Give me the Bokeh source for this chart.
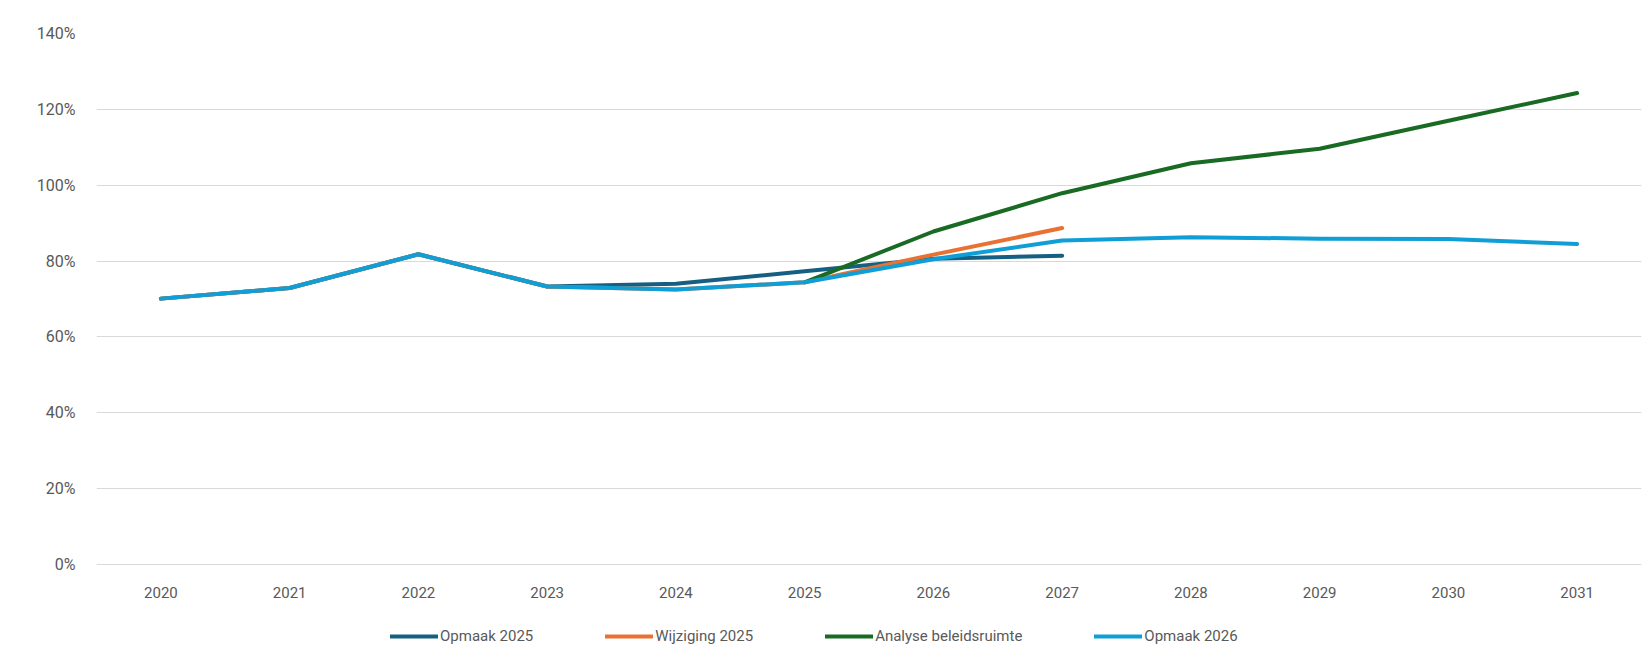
from bokeh.plotting import figure
from bokeh.models import FactorRange, Range1d, Legend, LegendItem, PrintfTickFormatter, FixedTicker, ColumnDataSource
from bokeh.core.properties import value
from bokeh.embed import file_html
from bokeh.resources import INLINE

years = ["2020", "2021", "2022", "2023", "2024", "2025", "2026", "2027", "2028", "2029", "2030", "2031"]

opmaak_2025_years = years[:8]
opmaak_2025 = [70.1, 72.9, 81.8, 73.3, 74.0, 77.3, 80.6, 81.4]

wijziging_2025_years = years[:8]
wijziging_2025 = [70.1, 72.9, 81.8, 73.3, 72.5, 74.4, 81.7, 88.7]

analyse_years = years[5:]
analyse_beleidsruimte = [74.4, 87.8, 97.9, 105.8, 109.6, 117.0, 124.3]

opmaak_2026_years = years
opmaak_2026 = [70.1, 72.9, 81.8, 73.3, 72.5, 74.4, 80.5, 85.4, 86.3, 85.9, 85.8, 84.5]

y_ticks = [0, 20, 40, 60, 80, 100, 120, 140]

FONT = "Roboto"
TXT = "#595959"

# frame: 0..140 % spans 531 px; the frame is extended below 0 so that the
# category labels and the legend can sit inside it
PX_PER_UNIT = 531 / 140.0
BELOW_PX = 104
y_low = -BELOW_PX / PX_PER_UNIT

p = figure(
    x_range=FactorRange(factors=years, range_padding=0),
    y_range=Range1d(y_low, 140),
    frame_width=1545, frame_height=531 + BELOW_PX,
    output_backend="svg", toolbar_location=None,
    min_border_left=96, min_border_right=11, min_border_top=33, min_border_bottom=0,
)
p.x_range.range_padding = 0
p.outline_line_color = None
p.background_fill_color = "white"
p.border_fill_color = "white"

p.xgrid.grid_line_color = None
p.ygrid.grid_line_color = "#d9d9d9"
p.ygrid.grid_line_width = 1
p.ygrid.ticker = FixedTicker(ticks=y_ticks)

p.yaxis.ticker = FixedTicker(ticks=y_ticks)
p.yaxis.formatter = PrintfTickFormatter(format="%d%%")
p.yaxis.axis_line_color = None
p.yaxis.major_tick_line_color = None
p.yaxis.minor_tick_line_color = None
p.yaxis.major_label_standoff = 15
p.yaxis.major_label_text_font = FONT
p.yaxis.major_label_text_font_size = "16px"
p.yaxis.major_label_text_color = TXT

p.xaxis.visible = False

# category labels, anchored on the 0 % line and offset downward in pixels
p.text(x=years, y=[0] * len(years), text=years, x_offset=0, y_offset=28,
       text_align="center", text_baseline="middle",
       text_font=value(FONT), text_font_size="15px", text_color=TXT)

series = [
    ("Opmaak 2025", opmaak_2025_years, opmaak_2025, "#156082"),
    ("Wijziging 2025", wijziging_2025_years, wijziging_2025, "#E97132"),
    ("Analyse beleidsruimte", analyse_years, analyse_beleidsruimte, "#196B24"),
    ("Opmaak 2026", opmaak_2026_years, opmaak_2026, "#0F9ED5"),
]

items = []
for name, xs, ys, col in series:
    src = ColumnDataSource(dict(x=xs, y=ys))
    r = p.line("x", "y", source=src, line_color=col, line_width=4,
               line_cap="round", line_join="round")
    items.append(LegendItem(label=name, renderers=[r]))

legend = Legend(items=items, orientation="horizontal", location=(294, 22),
                border_line_color=None, background_fill_alpha=0,
                padding=0, margin=0, spacing=72, label_standoff=2,
                glyph_width=48, glyph_height=20, label_height=20,
                label_text_font=FONT, label_text_font_size="15px",
                label_text_color=TXT)
p.add_layout(legend, "center")

open("out.html", "w").write(file_html(p, INLINE))
